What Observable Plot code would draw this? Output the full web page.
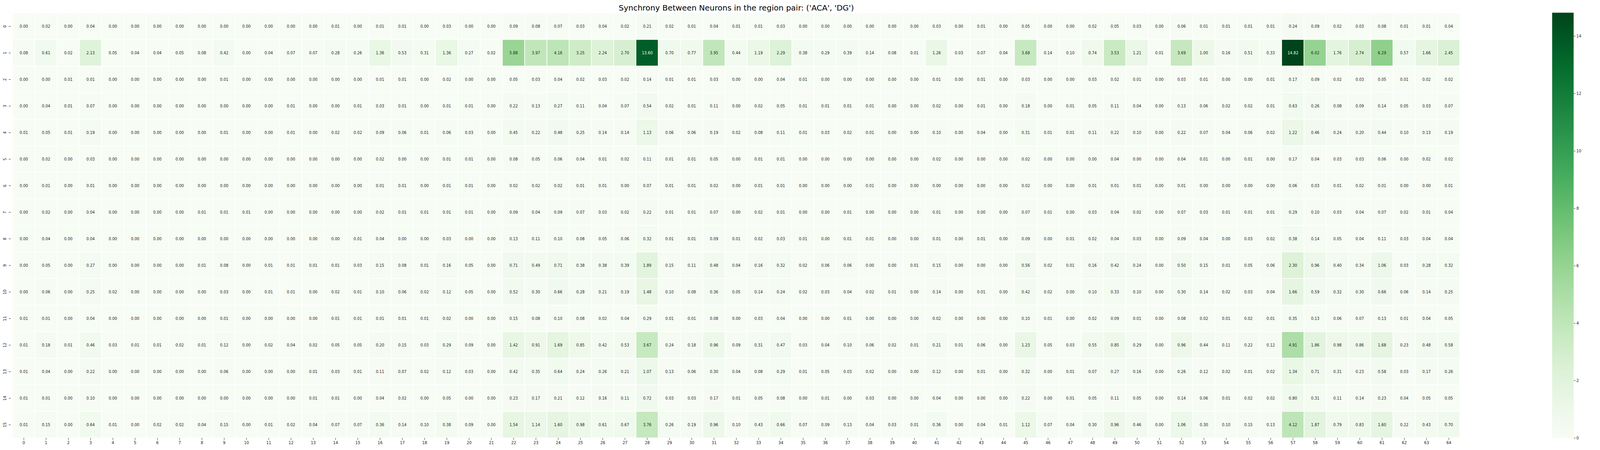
<!DOCTYPE html>
<html><head><meta charset="utf-8">
<script src="https://cdn.jsdelivr.net/npm/d3@7"></script>
<script src="https://cdn.jsdelivr.net/npm/@observablehq/plot@0.6"></script>
<style>
body{margin:0;background:#fff;font-family:"DejaVu Sans",sans-serif;}
#wrap{position:relative;width:4680px;height:1152px;overflow:hidden;}
#title{position:absolute;left:0;top:4px;width:3770px;text-align:center;font-size:20px;line-height:32px;height:32px;color:#000;font-family:"DejaVu Sans",sans-serif;}
#main{position:absolute;left:0;top:32px;}
#cbar{position:absolute;left:3973px;top:32px;}
</style></head>
<body>
<div id="wrap">
  <div id="title">Synchrony Between Neurons in the region pair: ('ACA', 'DG')</div>
  <div id="main"></div>
  <div id="cbar"></div>
</div>
<script>
const title = "Synchrony Between Neurons in the region pair: ('ACA', 'DG')";
const rowLabels = d3.range(16).map(String);
const colLabels = d3.range(65).map(String);
const cbarTicks = [0, 2, 4, 6, 8, 10, 12, 14];

const r0 = [0.00,0.02,0.00,0.04,0.00,0.00,0.00,0.00,0.00,0.00,0.00,0.00,0.00,0.00, 0.01,0.00,0.01,0.01,0.00,0.03,0.00,0.00,0.09,0.08,0.07,0.03,0.04,0.02, 0.21,0.02,0.01,0.04,0.01,0.01,0.03,0.00,0.00,0.00,0.00,0.00,0.00,0.03, 0.00,0.01,0.00,0.05,0.00,0.00,0.02,0.05,0.03,0.00,0.06,0.01,0.01,0.01, 0.01,0.24,0.09,0.02,0.03,0.08,0.01,0.01,0.04];
const r1 = [0.08,0.61,0.02,2.13,0.05,0.04,0.04,0.05,0.08,0.42,0.00,0.04,0.07,0.07, 0.28,0.26,1.36,0.53,0.31,1.36,0.27,0.02,5.88,3.97,4.16,3.25,2.24,2.70, 13.60,0.70,0.77,3.95,0.44,1.19,2.29,0.38,0.29,0.39,0.14,0.08,0.01,1.26, 0.03,0.07,0.04,3.68,0.14,0.10,0.74,3.53,1.21,0.01,3.69,1.00,0.16,0.51, 0.33,14.82,6.02,1.76,2.74,6.29,0.57,1.66,2.45];
const r2 = [0.00,0.00,0.01,0.01,0.00,0.00,0.00,0.00,0.00,0.01,0.00,0.00,0.00,0.00, 0.00,0.00,0.01,0.01,0.00,0.02,0.00,0.00,0.05,0.03,0.04,0.02,0.03,0.02, 0.14,0.01,0.01,0.03,0.00,0.00,0.04,0.01,0.00,0.00,0.00,0.00,0.00,0.01, 0.00,0.01,0.00,0.03,0.00,0.00,0.03,0.02,0.01,0.00,0.03,0.01,0.00,0.00, 0.01,0.17,0.09,0.02,0.03,0.05,0.01,0.02,0.02];
const r3 = [0.00,0.04,0.01,0.07,0.00,0.00,0.00,0.00,0.00,0.00,0.00,0.00,0.01,0.00, 0.00,0.01,0.03,0.01,0.00,0.01,0.01,0.00,0.22,0.13,0.27,0.11,0.04,0.07, 0.54,0.02,0.01,0.11,0.00,0.02,0.05,0.01,0.01,0.01,0.01,0.00,0.00,0.02, 0.00,0.01,0.00,0.18,0.00,0.01,0.05,0.11,0.04,0.00,0.13,0.06,0.02,0.02, 0.01,0.63,0.26,0.08,0.09,0.14,0.05,0.03,0.07];
const r4 = [0.01,0.05,0.01,0.19,0.00,0.00,0.00,0.00,0.00,0.01,0.00,0.00,0.01,0.00, 0.02,0.02,0.09,0.06,0.01,0.06,0.03,0.00,0.45,0.22,0.48,0.25,0.14,0.14, 1.13,0.06,0.06,0.19,0.02,0.08,0.11,0.01,0.03,0.02,0.01,0.00,0.00,0.10, 0.00,0.04,0.00,0.31,0.01,0.01,0.11,0.22,0.10,0.00,0.22,0.07,0.04,0.06, 0.02,1.22,0.46,0.24,0.20,0.44,0.10,0.13,0.19];
const r5 = [0.00,0.02,0.00,0.03,0.00,0.00,0.00,0.00,0.00,0.00,0.00,0.00,0.00,0.00, 0.00,0.00,0.02,0.00,0.00,0.01,0.01,0.00,0.08,0.05,0.06,0.04,0.01,0.02, 0.11,0.01,0.01,0.05,0.00,0.01,0.01,0.00,0.00,0.00,0.00,0.00,0.00,0.02, 0.00,0.00,0.00,0.02,0.00,0.00,0.00,0.04,0.00,0.00,0.04,0.01,0.00,0.01, 0.00,0.17,0.04,0.03,0.03,0.06,0.00,0.02,0.02];
const r6 = [0.00,0.01,0.00,0.01,0.00,0.00,0.00,0.00,0.00,0.00,0.00,0.00,0.00,0.00, 0.00,0.00,0.01,0.01,0.00,0.01,0.01,0.00,0.02,0.02,0.02,0.01,0.01,0.00, 0.07,0.01,0.01,0.02,0.00,0.01,0.01,0.00,0.00,0.00,0.01,0.00,0.00,0.00, 0.00,0.00,0.00,0.02,0.00,0.00,0.01,0.01,0.01,0.00,0.01,0.00,0.00,0.00, 0.00,0.06,0.03,0.01,0.02,0.01,0.00,0.00,0.01];
const r7 = [0.00,0.02,0.00,0.04,0.00,0.00,0.00,0.00,0.01,0.01,0.01,0.00,0.00,0.00, 0.00,0.00,0.02,0.01,0.01,0.01,0.01,0.00,0.09,0.04,0.09,0.07,0.03,0.02, 0.22,0.01,0.01,0.07,0.00,0.02,0.01,0.00,0.00,0.01,0.00,0.00,0.00,0.01, 0.00,0.00,0.00,0.07,0.01,0.00,0.03,0.04,0.02,0.00,0.07,0.03,0.01,0.01, 0.01,0.29,0.10,0.03,0.04,0.07,0.02,0.01,0.04];
const r8 = [0.00,0.04,0.00,0.04,0.00,0.00,0.00,0.00,0.00,0.00,0.00,0.00,0.00,0.00, 0.00,0.01,0.04,0.00,0.00,0.03,0.00,0.00,0.13,0.11,0.10,0.08,0.05,0.06, 0.32,0.01,0.01,0.09,0.01,0.02,0.03,0.01,0.00,0.01,0.01,0.00,0.00,0.01, 0.00,0.01,0.00,0.09,0.00,0.01,0.02,0.04,0.03,0.00,0.09,0.04,0.00,0.03, 0.02,0.38,0.14,0.05,0.04,0.11,0.03,0.04,0.04];
const r9 = [0.00,0.05,0.00,0.27,0.00,0.00,0.00,0.00,0.01,0.08,0.00,0.01,0.01,0.01, 0.01,0.03,0.15,0.08,0.01,0.16,0.05,0.00,0.71,0.49,0.71,0.38,0.38,0.39, 1.89,0.15,0.11,0.48,0.04,0.16,0.32,0.02,0.06,0.06,0.00,0.00,0.01,0.15, 0.00,0.00,0.00,0.56,0.02,0.01,0.16,0.42,0.24,0.00,0.50,0.15,0.01,0.05, 0.06,2.30,0.96,0.40,0.34,1.06,0.03,0.28,0.32];
const r10 = [0.00,0.06,0.00,0.25,0.02,0.00,0.00,0.00,0.00,0.03,0.00,0.01,0.01,0.00, 0.02,0.01,0.10,0.06,0.02,0.12,0.05,0.00,0.52,0.30,0.66,0.28,0.21,0.19, 1.48,0.10,0.08,0.36,0.05,0.14,0.24,0.02,0.03,0.04,0.02,0.01,0.00,0.14, 0.00,0.01,0.00,0.42,0.02,0.00,0.10,0.33,0.10,0.00,0.30,0.14,0.02,0.03, 0.04,1.66,0.59,0.32,0.30,0.66,0.06,0.14,0.25];
const r11 = [0.01,0.01,0.00,0.04,0.00,0.00,0.00,0.00,0.00,0.01,0.00,0.00,0.00,0.00, 0.01,0.01,0.01,0.01,0.01,0.02,0.00,0.00,0.15,0.08,0.10,0.08,0.02,0.04, 0.29,0.01,0.01,0.08,0.00,0.03,0.04,0.00,0.00,0.01,0.00,0.00,0.00,0.02, 0.00,0.00,0.00,0.10,0.01,0.00,0.02,0.09,0.01,0.00,0.08,0.02,0.01,0.02, 0.01,0.35,0.13,0.06,0.07,0.13,0.01,0.04,0.05];
const r12 = [0.01,0.18,0.01,0.46,0.03,0.01,0.01,0.02,0.01,0.12,0.00,0.02,0.04,0.02, 0.05,0.05,0.20,0.15,0.03,0.29,0.09,0.00,1.42,0.91,1.69,0.85,0.42,0.53, 3.67,0.24,0.18,0.96,0.09,0.31,0.47,0.03,0.04,0.10,0.06,0.02,0.01,0.21, 0.01,0.06,0.00,1.23,0.05,0.03,0.55,0.85,0.29,0.00,0.96,0.44,0.11,0.22, 0.12,4.91,1.86,0.98,0.86,1.68,0.23,0.48,0.58];
const r13 = [0.01,0.04,0.00,0.22,0.00,0.00,0.00,0.00,0.00,0.06,0.00,0.00,0.00,0.01, 0.03,0.01,0.11,0.07,0.02,0.12,0.03,0.00,0.42,0.35,0.64,0.24,0.26,0.21, 1.07,0.13,0.06,0.30,0.04,0.08,0.29,0.01,0.05,0.03,0.02,0.00,0.00,0.12, 0.00,0.01,0.00,0.32,0.00,0.01,0.07,0.27,0.16,0.00,0.26,0.12,0.02,0.01, 0.02,1.34,0.71,0.31,0.23,0.58,0.03,0.17,0.26];
const r14 = [0.01,0.01,0.00,0.10,0.00,0.00,0.00,0.00,0.00,0.00,0.00,0.00,0.00,0.01, 0.01,0.00,0.04,0.02,0.00,0.05,0.00,0.00,0.23,0.17,0.21,0.12,0.16,0.11, 0.72,0.03,0.03,0.17,0.01,0.05,0.08,0.00,0.01,0.00,0.03,0.00,0.00,0.04, 0.00,0.00,0.00,0.22,0.00,0.01,0.05,0.11,0.05,0.00,0.14,0.06,0.01,0.02, 0.02,0.80,0.31,0.11,0.14,0.23,0.04,0.05,0.05];
const r15 = [0.01,0.15,0.00,0.64,0.01,0.00,0.02,0.02,0.04,0.15,0.00,0.01,0.02,0.04, 0.07,0.07,0.36,0.14,0.10,0.38,0.09,0.00,1.54,1.14,1.60,0.98,0.61,0.67, 3.76,0.26,0.19,0.96,0.10,0.43,0.66,0.07,0.09,0.13,0.04,0.03,0.01,0.36, 0.00,0.04,0.01,1.12,0.07,0.04,0.30,0.96,0.46,0.00,1.06,0.30,0.10,0.15, 0.13,4.12,1.87,0.79,0.83,1.60,0.22,0.43,0.70];

const rows = [r0,r1,r2,r3,r4,r5,r6,r7,r8,r9,r10,r11,r12,r13,r14,r15];
const data = [];
rows.forEach((vals, i) => vals.forEach((v, j) => data.push({row: rowLabels[i], col: colLabels[j], v})));
const vmax = d3.max(data, d => d.v);

// text colour by luminance of the cell colour (seaborn rule)
const cs = d3.scaleSequential(d3.interpolateGreens).domain([0, vmax]);
function lum(c) {
  const o = d3.rgb(c);
  const f = x => { x /= 255; return x <= 0.03928 ? x / 12.92 : Math.pow((x + 0.055) / 1.055, 2.4); };
  return 0.2126 * f(o.r) + 0.7152 * f(o.g) + 0.0722 * f(o.b);
}
const textFill = d => lum(cs(d.v)) > 0.408 ? "#262626" : "#ffffff";

const colorOpts = {type: "linear", scheme: "greens", domain: [0, vmax]};

const main = Plot.plot({
  width: 3760,
  height: 1120,
  marginTop: 0,
  marginBottom: 31,
  marginLeft: 27.5,
  marginRight: 18,
  style: {fontFamily: "DejaVu Sans, sans-serif", background: "white", color: "#262626", fontSize: "10px"},
  x: {type: "band", domain: colLabels, padding: 0, label: null},
  y: {type: "band", domain: rowLabels, padding: 0, label: null},
  color: colorOpts,
  marks: [
    Plot.cell(data, {x: "col", y: "row", fill: "v", inset: 0.9}),
    Plot.text(data, {x: "col", y: "row", text: d => d.v.toFixed(2), fill: textFill, fontSize: 9.6}),
    Plot.axisX({tickSize: 5, tickPadding: 3, fontSize: 10, label: null}),
    Plot.axisY({tickSize: 5, tickPadding: 7, tickRotate: -90, fontSize: 10, label: null})
  ]
});
document.getElementById("main").append(main);

const cbar = Plot.plot({
  width: 110,
  height: 1120,
  marginTop: 0,
  marginBottom: 31,
  marginLeft: 0,
  marginRight: 55,
  style: {fontFamily: "DejaVu Sans, sans-serif", background: "white", color: "#262626", fontSize: "10px"},
  x: {type: "linear", domain: [0, 1], axis: null},
  y: {type: "linear", domain: [0, vmax], label: null},
  color: colorOpts,
  marks: [
    Plot.raster({x1: 0, x2: 1, y1: 0, y2: vmax, fill: (x, y) => y, pixelSize: 1}),
    Plot.axisY({anchor: "right", ticks: cbarTicks, tickSize: 4, tickPadding: 3, fontSize: 10, label: null})
  ]
});
document.getElementById("cbar").append(cbar);
</script>
</body></html>
